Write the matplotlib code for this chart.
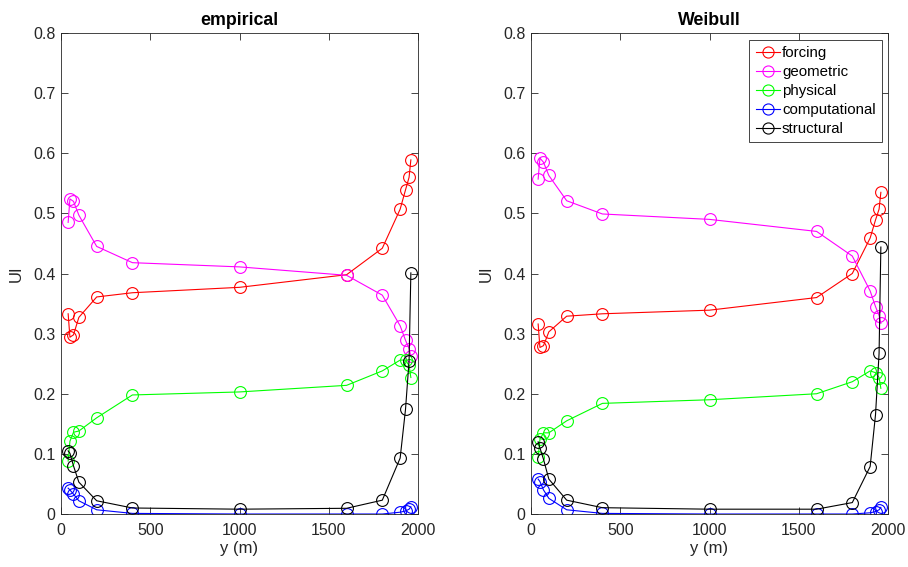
import numpy as np
import matplotlib.pyplot as plt

plt.rcParams['font.family'] = ['Liberation Sans', 'DejaVu Sans']

# distance along the section (m)
y_pos = [40, 50, 70, 100, 200, 400, 1000, 1600, 1800, 1900, 1930, 1950, 1960]

# empirical
emp_forcing = [0.333, 0.294, 0.298, 0.327, 0.361, 0.368, 0.377, 0.398, 0.442, 0.507, 0.539, 0.560, 0.589]
emp_geometric = [0.485, 0.524, 0.520, 0.497, 0.445, 0.418, 0.411, 0.397, 0.364, 0.313, 0.289, 0.275, 0.262]
emp_physical = [0.088, 0.121, 0.136, 0.138, 0.160, 0.198, 0.203, 0.214, 0.238, 0.256, 0.256, 0.247, 0.227]
emp_computational = [0.043, 0.040, 0.033, 0.022, 0.007, 0.001, 0.0, 0.0, 0.0, 0.003, 0.005, 0.008, 0.012]
emp_structural = [0.105, 0.101, 0.080, 0.053, 0.022, 0.010, 0.008, 0.0095, 0.023, 0.093, 0.174, 0.255, 0.401]

# Weibull
wei_forcing = [0.316, 0.277, 0.280, 0.303, 0.329, 0.333, 0.339, 0.360, 0.400, 0.459, 0.489, 0.507, 0.535]
wei_geometric = [0.557, 0.592, 0.585, 0.563, 0.521, 0.499, 0.490, 0.470, 0.429, 0.371, 0.345, 0.330, 0.317]
wei_physical = [0.094, 0.124, 0.135, 0.135, 0.155, 0.184, 0.190, 0.200, 0.220, 0.238, 0.235, 0.227, 0.209]
wei_computational = [0.058, 0.054, 0.040, 0.026, 0.007, 0.001, 0.0, 0.0, 0.0, 0.002, 0.004, 0.007, 0.011]
wei_structural = [0.120, 0.110, 0.091, 0.058, 0.023, 0.0105, 0.008, 0.008, 0.019, 0.079, 0.165, 0.267, 0.444]

names = ['forcing', 'geometric', 'physical', 'computational', 'structural']
colors = ['#ff0000', '#ff00ff', '#00ff00', '#0000ff', '#000000']
y_ticks = [0, 0.1, 0.2, 0.3, 0.4, 0.5, 0.6, 0.7, 0.8]
y_ticklabels = ['0', '0.1', '0.2', '0.3', '0.4', '0.5', '0.6', '0.7', '0.8']
x_ticks = [0, 500, 1000, 1500, 2000]

axcol = '#262626'

fig = plt.figure(figsize=(9.08, 5.67), dpi=100)
W, H = 908, 567
ax1 = fig.add_axes([61 / W, (H - 514) / H, 357 / W, 481 / H])
ax2 = fig.add_axes([531 / W, (H - 514) / H, 357 / W, 481 / H])


def panel(ax, title, series):
    for vals, name, c in zip(series, names, colors):
        ax.plot(y_pos, vals, '-o', color=c, mfc='none', mec=c, ms=8.5, lw=0.8, mew=0.8, label=name)
    ax.set_xlim(0, 2000)
    ax.set_ylim(0, 0.8)
    ax.set_xticks(x_ticks)
    ax.set_yticks(y_ticks)
    ax.set_yticklabels(y_ticklabels)
    ax.tick_params(direction='in', top=True, right=True, length=5, width=0.6,
                   labelsize=11.5, colors=axcol, pad=4)
    ax.tick_params(axis='x', pad=6.5)
    for s in ax.spines.values():
        s.set_color(axcol)
        s.set_linewidth(0.6)
    ax.set_title(title, fontsize=12.8, fontweight='bold', pad=6, color='black')
    ax.set_xlabel('y (m)', fontsize=12, color=axcol, labelpad=2)
    ax.set_ylabel('UI', fontsize=12, color=axcol, labelpad=7)


panel(ax1, 'empirical', [emp_forcing, emp_geometric, emp_physical, emp_computational, emp_structural])
panel(ax2, 'Weibull', [wei_forcing, wei_geometric, wei_physical, wei_computational, wei_structural])

leg = ax2.legend(loc='upper right', bbox_to_anchor=(0.983, 0.986), fontsize=10.8, frameon=True,
                 fancybox=False, framealpha=1, edgecolor=axcol, handlelength=1.6,
                 handletextpad=0.15, borderpad=0.42, labelspacing=0.33, borderaxespad=0)
leg.get_frame().set_linewidth(0.6)
for h in leg.legend_handles:
    h.set_markersize(8)

fig.savefig('out.png', dpi=100)
